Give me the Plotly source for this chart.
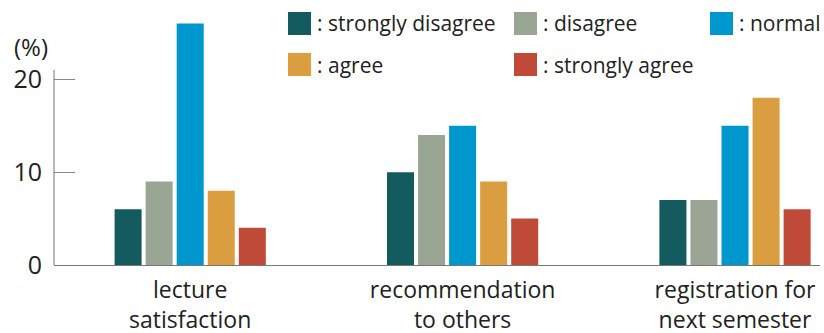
import plotly.graph_objects as go

categories = ["lecture<br>satisfaction", "recommendation<br>to others", "registration for<br>next semester"]
series_names = ["strongly disagree", "disagree", "normal", "agree", "strongly agree"]
strongly_disagree = [6, 10, 7]
disagree = [9, 14, 7]
normal = [26, 15, 15]
agree = [8, 9, 18]
strongly_agree = [4, 5, 6]
y_ticks = [0, 10, 20]

values = [strongly_disagree, disagree, normal, agree, strongly_agree]
colors = ["#135B5E", "#9AA593", "#0096CE", "#DA9E41", "#BF4A38"]

FONT = "Open Sans"
W, H = 824, 333
ML, MR, MT, MB = 54, 4, 5, 68
pw, ph = W - ML - MR, H - MT - MB

fig = go.Figure()
for name, vals, col in zip(series_names, values, colors):
    fig.add_trace(go.Bar(x=categories, y=vals, name=name, marker=dict(color=col, line=dict(width=0)),
                         showlegend=False))

def px_x(p):
    return (p - ML) / pw

def px_y(p):
    return (H - MB - p) / ph

# legend (manual, to match large swatches)
legend_pos = [(288, 12), (514, 12), (710, 12), (288, 53), (514, 53)]
shapes = []
annotations = []
for (lx, ly), name, col in zip(legend_pos, series_names, colors):
    shapes.append(dict(type="rect", xref="paper", yref="paper",
                       x0=px_x(lx), x1=px_x(lx + 23), y0=px_y(ly + 23), y1=px_y(ly),
                       fillcolor=col, line=dict(width=0)))
    annotations.append(dict(xref="paper", yref="paper", x=px_x(lx + 27), y=px_y(ly + 11.5),
                            text=": " + name, showarrow=False, xanchor="left", yanchor="middle",
                            font=dict(family=FONT, size=21, color="#222")))

# y-axis line (only up to ~21)
shapes.append(dict(type="line", xref="paper", yref="y", x0=0, x1=0, y0=0, y1=21,
                   line=dict(color="#777", width=1)))

annotations.append(dict(xref="paper", yref="paper", x=px_x(31), y=px_y(47), text="(%)",
                        showarrow=False, xanchor="center", yanchor="middle", borderpad=0,
                        font=dict(family=FONT, size=24, color="#222")))

fig.update_layout(
    width=W, height=H,
    margin=dict(l=ML, r=MR, t=MT, b=MB, autoexpand=False),
    paper_bgcolor="white", plot_bgcolor="white",
    barmode="group", bargap=0.43, bargroupgap=0.13,
    shapes=shapes, annotations=annotations,
    font=dict(family=FONT, size=22, color="#222"),
)
fig.update_xaxes(range=[-0.5, 2.312], showline=True, linecolor="#777", linewidth=1,
                 ticks="", showgrid=False, ticklabelstandoff=4, automargin=False,
                 tickfont=dict(family=FONT, size=23, color="#222"))
fig.update_yaxes(range=[0, 28], tickvals=y_ticks, showline=False, showgrid=False, zeroline=False,
                 ticks="inside", ticklen=21, tickcolor="#888", tickwidth=1,
                 ticklabelstandoff=11, automargin=False,
                 tickfont=dict(family=FONT, size=25, color="#222"))

fig.write_html("out.html")
